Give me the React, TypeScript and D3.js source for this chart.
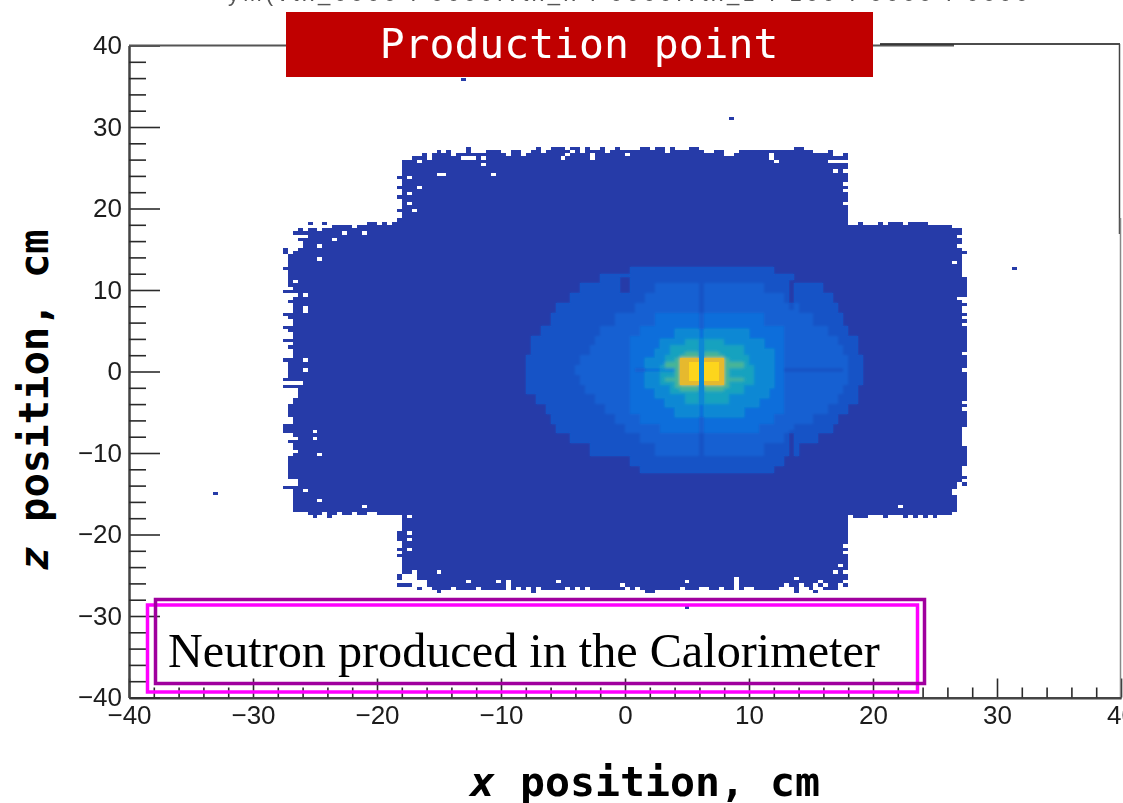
import React, { useEffect, useRef } from 'react';
import * as d3 from 'd3';

const W = 1123;
const H = 803;
const BIN = 0.4;

const titleText = 'Production point';
const noteText = 'Neutron produced in the Calorimeter';
const cutTitleText = 'ym(vtx_0000 : 0000:vtx_x : 0000:vtx_z : 100 : 0000 : 0000';
const majorTicks = [-40, -30, -20, -10, 0, 10, 20, 30, 40];

// upper edge (z, cm) of the central block, one value per bin from x = -18
const topEdge = [
  26, 26, 26.4, 26.4, 26.8, 26, 26.8, 27.2, 26.8, 27.2, 26.4, 26.8, 26.8, 27.6, 26.8, 26.8, 26.8, 27.2, 27.2, 27.2,
  26.8, 26.4, 27.2, 27.2, 26.4, 26.8, 27.2, 27.6, 26.8, 27.2, 27.6, 27.6, 27.6, 27.2, 27.6, 27.6, 27.2, 27.6, 27.2, 27.2,
  27.6, 26.8, 27.2, 27.6, 27.2, 27.2, 27.2, 27.2, 27.6, 27.6, 27.2, 27.6, 27.6, 26.8, 27.6, 27.2, 27.2, 27.2, 27.6, 27.6,
  27.2, 26.8, 26.8, 27.2, 27.2, 26.4, 26.4, 26.8, 27.2, 27.2, 27.2, 27.2, 27.2, 27.2, 27.2, 27.2, 27.2, 27.2, 27.2, 27.6,
  27.6, 27.2, 27.2, 26.8, 26.8, 26.8, 27.2, 26.4, 26.4, 26.8,
];

// lower edge of the central block
const bottomEdge = [
  -24.8, -24.8, -24.4, -25.6, -25.6, -26.4, -26.8, -26.8, -26.8, -26.8, -26.8, -26.8, -26.8, -26.8, -26.8, -26.8, -26.8, -26.8, -26.8, -26.8,
  -26.8, -25.6, -26.8, -26.4, -26.8, -26.4, -27.2, -26.4, -26.8, -26.8, -26.8, -26.8, -26.8, -26.8, -26.8, -26.8, -26.8, -26.8, -26.8, -26.8,
  -26.8, -26.8, -26.8, -26.8, -26.8, -26.4, -26.8, -26.4, -26.8, -27.2, -27.2, -26.8, -26.8, -26.8, -26.8, -26.8, -26.4, -26.8, -26.8, -26.8,
  -26.4, -26.4, -26.8, -26.8, -26.8, -26.8, -26.8, -25.6, -26.8, -26.4, -26.4, -26.8, -26.8, -26.8, -26.8, -26.8, -26.4, -26.4, -26.4, -26.8,
  -26.4, -26.4, -26.8, -26, -26.4, -26.8, -26.8, -26.8, -26.4, -26.4,
];

// wings: one value per bin, left wing from x = -27.6, right wing from x = 18
const leftWingTop = [17, 17.2, 17.2, 17.6, 17.2, 17.6, 17.6, 17.6, 17.6, 17.6, 18, 18, 18, 18, 17.6, 18, 18, 18.4, 18.4, 18, 18.4, 18, 18.4, 18.4];
const leftWingBottom = [-16.8, -16.8, -17.2, -17.2, -17.2, -17.6, -17.6, -17.6, -17.2, -18, -17.6, -17.2, -17.6, -17.6, -17.2, -17.6, -17.6, -17.2, -17.2, -17.6, -17.6, -17.6, -17.6, -17.6];
const rightWingTop = [18, 18, 18.4, 18, 18, 18, 18.4, 18, 18.4, 18.4, 18.4, 18, 18.4, 18.4, 18.4, 18.4, 18, 18, 18, 18, 18, 17.6, 17.6, 17.6];
const rightWingBottom = [-17.6, -18, -18, -18, -17.6, -17.6, -17.6, -18, -17.6, -17.6, -17.6, -18, -17.6, -18, -17.6, -18, -17.6, -18, -17.6, -17.6, -17.6, -17.2, -17, -17];

// outer x edge of each wing, one value per row going down from z = 17.6
const leftWingEdge = [
  -25.2, -26.4, -26.8, -25.6, -26.4, -26, -26, -26.4, -26.8, -27.2, -27.2, -27.2, -27.2, -27.6, -27.2, -27.2, -27.2, -27.2, -27.2, -26.8,
  -27.6, -26.4, -26.8, -27.2, -26.8, -26.8, -26.8, -27.6, -27.2, -26.8, -26.8, -27.6, -27.2, -26.8, -26.8, -27.6, -26.8, -27.2, -26.8, -26.8,
  -26.8, -27.6, -27.2, -27.2, -27.2, -27.2, -27.2, -27.6, -26.4, -27.6, -26.4, -26.4, -26.8, -26.8, -26.8, -27.2, -27.2, -27.2, -27.2, -26.8,
  -26.8, -27.6, -27.6, -27.6, -26.8, -26.4, -27.2, -26.8, -26.8, -26.4, -26.8, -27.2, -27.2, -27.2, -27.2, -27.2, -27.2, -27.2, -26.4, -26.4,
  -27.6, -26.8, -26.8, -26.8, -26.8, -26.8,
];
const rightWingEdge = [
  27.2, 27.2, 27.2, 26.8, 27.2, 27.2, 26.8, 27.2, 27.6, 27.2, 27.2, 27.2, 27.2, 27.2, 27.2, 27.2, 27.6, 27.6, 27.6, 27.6,
  27.6, 27.6, 27.2, 27.2, 27.6, 27.2, 27.2, 27.6, 27.2, 27.6, 27.2, 27.6, 27.6, 27.6, 27.6, 27.6, 27.6, 27.6, 27.6, 27.2,
  27.6, 27.6, 27.6, 27.6, 27.2, 27.6, 27.6, 27.6, 27.6, 27.6, 27.6, 27.6, 27.6, 27.6, 27.2, 27.6, 27.2, 27.6, 27.6, 27.6,
  27.6, 27.6, 27.2, 27.2, 27.2, 27.2, 27.2, 27.2, 27.6, 27.6, 27.6, 27.6, 27.6, 27.6, 27.2, 27.2, 27.2, 27.6, 27.2, 27.6,
  26.8, 26.8, 26.8, 26.8, 26.8, 26.8, 26.8,
];

// empty bins inside the footprint [x, z]
const holes = [
  [-24.65, 17.3], [-24.65, 15.4], [-24.65, 13.7], [-22.5, 16.8], [-21.1, 16.8], [-23.4, 16.3], [-26.5, 11], [-26, 7.9], [-26, 7.5], [-26, 7.2],
  [-26, 9.2], [-26, 1.3], [-26, 0.3], [-26.6, -1.5], [-26.2, -1.5], [-26.5, -2.6], [-26.5, -3.2], [-25.1, -7.5], [-25.1, -8.3], [-24.65, -10.3],
  [-24.65, -16], [-21.1, -16.5], [-26, -14.6], [-26.9, -8.1], [26.4, 13.3], [26.8, 8.8], [22, -16.6], [26.4, -14.7], [26.4, -15.1], [26.8, -13.9],
  [-17.55, -17.67], [-17.55, -19.67], [-17.55, -20.5], [-17.55, -21.9], [-14.9, -24.5], [-17.55, -25], [-17.2, -25], [-16.7, -26], [-13.65, -26.7],
  [-12.7, -25.9], [-11.8, -26.7], [-10.05, -25.9], [-5.25, -25.9], [-4.45, -26.7], [-3.9, -26.7], [-2.9, -26.7], [-0.2, -26.4],
  [13, -26.4], [13.9, -25.5], [14.3, -26.3], [15.2, -26.4], [15.6, -25.9], [16.1, -26.4], [17.5, -26.3], [17.9, -25.9], [17.5, -24], [17, -24.5],
  [17.9, -24.5], [17.95, -21.6], [17.95, -22.4], [5, -25.9], [9.1, -25.5], [7.7, -26.6], [-12.9, 26.2], [-12.5, 26.2], [-12.1, 26.2], [-11.4, 26.2],
  [-11.4, 25.2], [-15.2, 24.3], [-14.8, 24.3], [-10.6, 24.3], [-16.8, 25.8], [-16.8, 22.6], [-17.2, 19.9], [-17.6, 23.9], [-17.6, 21.9], [-17.6, 20.7],
  [-5.2, 26.1], [-4.8, 26.6], [-4.4, 27], [-3.4, 27], [-2.5, 26.6], [-2.5, 26.2], [0.2, 26.6], [11.8, 26.6], [11.6, 26.2], [12.2, 25.8],
  [16.4, 25.8], [16.8, 25.8], [17.2, 25.8], [17.6, 25.8], [17, 24.7], [17.95, 24.4], [17.95, 23], [17.95, 22.3], [17.95, 20.7],
];

// isolated filled bins [x, z]
const strays = [
  [-13.15, 35.95], [8.55, 31], [31.3, 12.76], [-33.1, -15.1], [5.1, -29],
  [-18.1, 23.85], [-18.1, 22.5], [-18.1, 21.3], [-18.1, 19.9], [-18.1, 18.65],
  [-18.2, -20], [-18.2, -20.4], [-18.2, -20.8], [-18.2, -21.9], [-18.2, -22.8], [-18.2, -25], [-18.2, -25.4],
  [-18.2, -26.4], [-17.8, -26.4], [-17.4, -26.4], [-16.8, -26.75], [-15.1, -27.2], [13.9, -27.2], [15.2, -27.2],
  [-25.6, 18.2], [-24.4, 18.2], [-25.1, -17.9], [-27.6, 15], [-27.6, 14.6],
];

// intensity contours, read as rows of [z, xLeft, xRight]
const level1Rows = [
  [12.2, 0.6, 12], [11.3, -1.8, 13.8], [10.05, -3.6, 16], [8.8, -4.4, 16.8], [7.6, -5.5, 17.1], [6.4, -6, 17.6], [5.15, -6.7, 18.1], [3.9, -7.4, 18.7],
  [2.7, -7.5, 19], [1.5, -7.8, 19.1], [0.25, -7.8, 19.1], [-1, -7.8, 19.2], [-2.2, -7.8, 18.8], [-3.4, -7.1, 18.9], [-4.7, -6.4, 17.9], [-5.9, -5.9, 17.3],
  [-7.1, -5.5, 16.8], [-8.35, -4.2, 15.7], [-9.6, -2.8, 14.1], [-10.8, 0.4, 13], [-11.9, 1.2, 12],
];
const level2Rows = [
  [10.1, 2.6, 11.4], [8.8, 1.5, 12.8], [7.6, 0.7, 14.1], [6.4, -0.7, 15.2], [5.15, -1.8, 16.3], [3.9, -2.3, 17.1], [2.7, -2.8, 17.6], [1.5, -3.6, 17.9],
  [0.25, -3.9, 17.9], [-1, -3.6, 17.9], [-2.2, -3.1, 17.6], [-3.4, -2.3, 17.1], [-4.7, -1.5, 16.3], [-5.9, -0.9, 15.2], [-7.1, 0.1, 13.6], [-8.35, 1.2, 13], [-9.6, 2.6, 11.4],
];
const level3Rows = [
  [6.4, 2.6, 11.4], [5.15, 1.2, 12.8], [3.9, 0.5, 12.8], [2.7, 0.4, 12.8], [1.5, 0.4, 12.8], [0.25, 0.4, 12.8], [-1, 0.4, 12.8], [-2.2, 0.4, 12.8],
  [-3.4, 0.4, 12.8], [-4.7, 0.4, 12.8], [-5.9, 1.2, 12.2], [-7.1, 2.8, 10.9],
];
const level4Rows = [
  [4.7, 3.9, 10.1], [3.5, 2.8, 11.4], [2.3, 2.3, 12], [1.05, 1.8, 12.2], [-0.1, 1.8, 12.2], [-1.4, 1.8, 12.2], [-2.6, 2.3, 11.7], [-3.85, 3.1, 10.9], [-5.1, 4.2, 9.5],
];
const level5Rows = [
  [3.5, 5, 8.2], [2.7, 3.6, 9.5], [1.5, 3.1, 10.1], [0.25, 2.8, 10.4], [-1, 2.8, 10.4], [-2.2, 3.6, 9.5], [-3.2, 4.7, 8.5],
];
const level6Rows = [
  [2.2, 5, 7.6], [1.8, 4.4, 8.2], [1.4, 4, 8.4], [1, 4, 8.4], [0.8, 3.4, 9.8], [0.4, 4, 8.4], [0, 4, 8.4],
  [-0.4, 4, 8.4], [-0.8, 3.4, 9.8], [-1.2, 4, 8.4], [-1.6, 4, 8.4], [-2, 4.6, 8],
];
const level7Rows = [[0.05, 4.4, 8]];
const level8Rows = [[0.05, 5.2, 7.6]];

const levelRows = [level1Rows, level2Rows, level3Rows, level4Rows, level5Rows, level6Rows, level7Rows, level8Rows];
const levelHalfHeights = [0.62, 0.62, 0.62, 0.62, 0.62, 0.2, 1.7, 1.25];
const levelIds = [0, 1, 2, 3, 4, 5, 6, 7, 8];
const levelColors = ['#283ba8', '#1653c6', '#1460d2', '#106edb', '#0c88d4', '#16a2bf', '#47b596', '#e6b92f', '#fdd51f'];

// darker streaks: [xLeft, xRight, zLow, zHigh]
const coldBands = [
  [13.2, 13.6, 7.6, 11.4], [13.2, 13.6, -10.4, -7], [-0.4, 0.4, 9.6, 11.8], [12.8, 17.6, 0, 0.4], [1, 4, 0, 0.4],
];
const gapColumn = 6;

const snap = (v: number) => Math.floor((v + 40) / BIN + 1e-6);
const cellKey = (i: number, j: number) => i * 1000 + j;

const isFilled = (i: number, j: number) => {
  const c = i - snap(-18);
  if (c >= 0 && c < topEdge.length) {
    const t = snap(topEdge[c]);
    const b = snap(bottomEdge[c]);
    if (j >= b && j < t) return true;
  }
  const r = snap(17.6) - j;
  if (c < 0) {
    const w = i - snap(-27.6);
    const edge = leftWingEdge[Math.max(r, 0)] ?? -26.8;
    if (w < 0 && edge >= -27.6) return false;
    return j < snap(leftWingTop[w]) && j >= snap(leftWingBottom[w]) && i >= snap(edge);
  }
  if (c >= topEdge.length) {
    const w = c - topEdge.length;
    if (w >= rightWingTop.length) return false;
    const edge = rightWingEdge[Math.max(r, 0)] ?? 26.8;
    return j < snap(rightWingTop[w]) && j >= snap(rightWingBottom[w]) && i < snap(edge);
  }
  const inRows = j < snap(18) && j >= snap(-17.6);
  return c === 0 && inRows;
};

const levelAt = (xc: number, zc: number) => {
  let level = 0;
  levelRows.forEach((rows, k) => {
    const hit = rows.some(([z, x0, x1]) => Math.abs(zc - z) <= levelHalfHeights[k] && xc >= x0 && xc < x1);
    if (hit) level = k + 1;
  });
  coldBands.forEach(([x0, x1, z0, z1]) => {
    if (xc >= x0 && xc < x1 && zc >= z0 && zc < z1) level = Math.max(level - 1, 0);
  });
  if (xc >= gapColumn && xc < gapColumn + BIN && level >= 2) level = Math.min(level - 1, 4);
  return level;
};

export default function App() {
  const ref = useRef<SVGSVGElement>(null);

  useEffect(() => {
    const svg = d3.select(ref.current);
    svg.selectAll('*').remove();

    const x = d3.scaleLinear().domain([-40, 40]).range([129, 1121]);
    const y = d3.scaleLinear().domain([-40, 40]).range([697.5, 45.5]);
    const color = d3.scaleOrdinal<number, string>().domain(levelIds).range(levelColors);

    const defs = svg.append('defs');
    const addBlur = (id: string, amount: number) => {
      defs.append('filter').attr('id', id)
        .attr('x', '-5%').attr('y', '-5%').attr('width', '110%').attr('height', '110%')
        .append('feGaussianBlur').attr('stdDeviation', amount);
    };
    addBlur('soft', 0.5);
    addBlur('softer', 0.8);
    addBlur('softest', 1.5);
    addBlur('softText', 0.3);

    // histogram bins
    const holeSet = new Set(holes.map(([a, b]) => cellKey(snap(a), snap(b))));
    const cells: { i: number; j: number; level: number }[] = [];
    const addCell = (i: number, j: number) => {
      cells.push({ i, j, level: levelAt(-40 + (i + 0.5) * BIN, -40 + (j + 0.5) * BIN) });
    };
    d3.range(snap(-28), snap(28)).forEach(i => {
      d3.range(snap(-28), snap(28)).forEach(j => {
        if (isFilled(i, j) && !holeSet.has(cellKey(i, j))) addCell(i, j);
      });
    });
    strays.forEach(([a, b]) => addCell(snap(a), snap(b)));

    // the picture gets softer towards the peak, so each band is blurred on its own
    const drawCells = (data: typeof cells, filterId: string) => {
      svg.append('g')
        .attr('filter', `url(#${filterId})`)
        .attr('shape-rendering', 'crispEdges')
        .selectAll('rect')
        .data(data)
        .join('rect')
        .attr('x', d => x(-40 + d.i * BIN))
        .attr('y', d => y(-40 + (d.j + 1) * BIN))
        .attr('width', x(BIN) - x(0))
        .attr('height', y(0) - y(BIN))
        .attr('fill', d => color(d.level));
    };
    drawCells(cells, 'soft');
    drawCells(cells.filter(d => d.level >= 1), 'softer');
    drawCells(cells.filter(d => d.level >= 4), 'softest');
    drawCells(cells.filter(d => d.level >= 7), 'soft');
    drawCells(cells.filter(d => d.i === snap(gapColumn) && d.level === 4), 'soft');

    // axes
    const minorTicks = d3.range(-40, 41, 2).filter(v => v % 10 !== 0);
    const styleAxis = (g: any) => {
      g.attr('filter', 'url(#softText)');
      g.selectAll('line').attr('stroke', '#2a2a2a').attr('stroke-width', 1.6);
      g.selectAll('path').attr('stroke', '#444').attr('stroke-width', 2);
      g.selectAll('text').attr('fill', '#1c1c1c');
    };
    svg.append('g')
      .attr('transform', `translate(0,${y(-40)})`)
      .call(d3.axisBottom(x).tickValues(majorTicks).tickSizeInner(-19).tickSizeOuter(0).tickPadding(8) as any)
      .attr('font-family', '"Liberation Sans", Arial, sans-serif')
      .attr('font-size', 26)
      .call(styleAxis);
    svg.append('g')
      .attr('transform', `translate(0,${y(-40)})`)
      .call(d3.axisBottom(x).tickValues(minorTicks).tickSizeInner(-10).tickSizeOuter(0).tickFormat(() => '') as any)
      .call(styleAxis);
    svg.append('g')
      .attr('transform', `translate(${x(-40)},0)`)
      .call(d3.axisLeft(y).tickValues(majorTicks).tickSizeInner(-31).tickSizeOuter(0).tickPadding(7) as any)
      .attr('font-family', '"Liberation Sans", Arial, sans-serif')
      .attr('font-size', 26)
      .call(styleAxis);
    svg.append('g')
      .attr('transform', `translate(${x(-40)},0)`)
      .call(d3.axisLeft(y).tickValues(minorTicks).tickSizeInner(-17).tickSizeOuter(0).tickFormat(() => '') as any)
      .call(styleAxis);

    // frame, the pasted pieces do not quite line up
    svg.append('line').attr('x1', 129).attr('x2', 954).attr('y1', 45.5).attr('y2', 45.5).attr('stroke', '#555').attr('stroke-width', 2);
    svg.append('line').attr('x1', 880).attr('x2', 1120).attr('y1', 44).attr('y2', 44).attr('stroke', '#111').attr('stroke-width', 1.5);
    svg.append('line').attr('x1', 1119.5).attr('x2', 1119.5).attr('y1', 44).attr('y2', 234).attr('stroke', '#444').attr('stroke-width', 1.5);
    svg.append('line').attr('x1', 1120.5).attr('x2', 1120.5).attr('y1', 218).attr('y2', 697).attr('stroke', '#888').attr('stroke-width', 1.5);

    // cut off title of the original plot
    svg.append('text')
      .attr('x', 228).attr('y', 1)
      .attr('textLength', 800)
      .attr('font-family', '"Liberation Sans", Arial, sans-serif')
      .attr('font-size', 22)
      .attr('fill', '#555')
      .text(cutTitleText);

    // title banner
    svg.append('rect').attr('x', 286).attr('y', 12).attr('width', 587).attr('height', 65).attr('fill', '#c00000');
    svg.append('text')
      .attr('x', 579).attr('y', 58)
      .attr('text-anchor', 'middle')
      .attr('font-family', '"DejaVu Sans Mono", monospace')
      .attr('font-size', 41.4)
      .attr('fill', '#fff')
      .text(titleText);

    // note boxes
    svg.append('rect').attr('x', 147.5).attr('y', 605).attr('width', 770).attr('height', 87)
      .attr('fill', 'none').attr('stroke', '#ff00ff').attr('stroke-width', 3.5);
    svg.append('rect').attr('x', 155.5).attr('y', 599.5).attr('width', 769).attr('height', 84)
      .attr('fill', 'none').attr('stroke', '#a0009e').attr('stroke-width', 3.5);
    svg.append('text')
      .attr('x', 168).attr('y', 667)
      .attr('font-family', '"Liberation Serif", "Times New Roman", serif')
      .attr('font-size', 48.2)
      .attr('fill', '#000')
      .text(noteText);

    // axis titles
    const xTitle = svg.append('text')
      .attr('x', 645).attr('y', 796)
      .attr('text-anchor', 'middle')
      .attr('font-family', '"DejaVu Sans Mono", monospace')
      .attr('font-weight', 'bold')
      .attr('font-size', 41.5)
      .attr('fill', '#000');
    xTitle.append('tspan').attr('font-style', 'italic').text('x');
    xTitle.append('tspan').text(' position, cm');

    const zTitle = svg.append('text')
      .attr('transform', 'translate(48,400) rotate(-90)')
      .attr('text-anchor', 'middle')
      .attr('font-family', '"DejaVu Sans Mono", monospace')
      .attr('font-weight', 'bold')
      .attr('font-size', 40.5)
      .attr('fill', '#000');
    zTitle.append('tspan').attr('font-style', 'italic').text('z');
    zTitle.append('tspan').text(' position, cm');
  }, []);

  return (
    <svg
      ref={ref}
      width={W}
      height={H}
      style={{ position: 'absolute', left: 0, top: 0, display: 'block', background: '#fff' }}
    />
  );
}
